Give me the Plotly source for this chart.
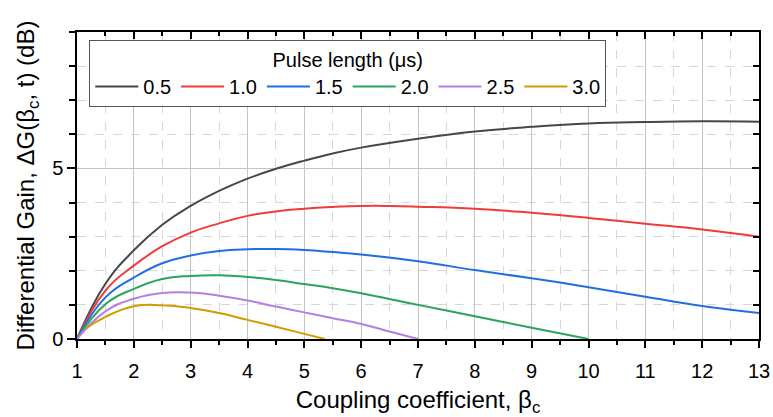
import plotly.graph_objects as go

# Differential gain vs coupling coefficient for several pulse lengths
pulse_labels = ["0.5", "1.0", "1.5", "2.0", "2.5", "3.0"]
colors = ["#474747", "#ef3b3b", "#1f6ee6", "#2ba360", "#b47ee5", "#d39b00"]

beta_05 = [1, 1.5, 2, 2.5, 3, 3.5, 4, 4.5, 5, 5.5, 6, 7, 8, 9, 10, 11, 12, 13]
gain_05 = [0, 1.62, 2.6, 3.35, 3.9, 4.34, 4.7, 4.99, 5.23, 5.44, 5.61, 5.87, 6.08, 6.22, 6.32, 6.36, 6.38, 6.37]

beta_10 = [1, 1.5, 2, 2.5, 3, 3.5, 4, 4.5, 5, 5.5, 6, 6.5, 7, 8, 9, 10, 11, 12, 13]
gain_10 = [0, 1.42, 2.15, 2.72, 3.12, 3.39, 3.61, 3.74, 3.82, 3.87, 3.9, 3.9, 3.88, 3.82, 3.7, 3.55, 3.38, 3.21, 3.0]

beta_15 = [1, 1.5, 2, 2.5, 3, 3.5, 4, 4.5, 5, 5.5, 6, 7, 8, 9, 10, 11, 12, 13]
gain_15 = [0, 1.22, 1.8, 2.22, 2.45, 2.58, 2.63, 2.64, 2.61, 2.55, 2.48, 2.28, 2.02, 1.78, 1.52, 1.24, 0.97, 0.76]

beta_20 = [1, 1.5, 2, 2.5, 3, 3.5, 4, 4.5, 5, 5.5, 6, 7, 8, 9, 10]
gain_20 = [0, 1.02, 1.47, 1.76, 1.85, 1.87, 1.82, 1.73, 1.61, 1.49, 1.34, 1.0, 0.67, 0.33, 0.0]

beta_25 = [1, 1.5, 2, 2.5, 3, 3.5, 4, 4.5, 5, 5.5, 6, 6.5, 7]
gain_25 = [0, 0.81, 1.18, 1.35, 1.36, 1.27, 1.13, 0.95, 0.78, 0.61, 0.44, 0.22, 0.0]

beta_30 = [1.15, 1.5, 2, 2.5, 3, 3.5, 4, 4.5, 5, 5.36]
gain_30 = [0.3, 0.65, 0.96, 0.99, 0.91, 0.76, 0.56, 0.36, 0.15, 0.0]

series = [
    (beta_05, gain_05), (beta_10, gain_10), (beta_15, gain_15),
    (beta_20, gain_20), (beta_25, gain_25), (beta_30, gain_30),
]

x_range = [1, 13]
y_range = [0, 9]
font_family = "Liberation Sans, Arial, sans-serif"

fig = go.Figure()
for (bx, gy), name, col in zip(series, pulse_labels, colors):
    fig.add_trace(go.Scatter(
        x=bx, y=gy, name=name, mode="lines",
        line=dict(color=col, width=2, shape="spline", smoothing=1.3),
    ))

# empty trace so the mirrored (top/right) axes with inward ticks get drawn
fig.add_trace(go.Scatter(x=[], y=[], xaxis="x2", yaxis="y2",
                         showlegend=False, hoverinfo="skip"))

grid_major = "#c4c4c4"
grid_minor = "#d6d6d6"

fig.update_layout(
    width=773, height=417,
    margin=dict(l=77, r=14, t=32, b=78),
    paper_bgcolor="white", plot_bgcolor="white",
    font=dict(family=font_family, size=20, color="black"),
    xaxis=dict(
        range=x_range, tick0=1, dtick=1, ticks="outside", ticklen=7,
        tickwidth=1.5, tickcolor="black",
        showline=True, linecolor="black", linewidth=1.5,
        showgrid=True, gridcolor=grid_major, gridwidth=1,
        minor=dict(dtick=0.5, ticks="outside", ticklen=4, tickcolor="black",
                   showgrid=True, gridcolor=grid_minor, griddash="dash"),
        zeroline=False, ticklabelstandoff=6, automargin=False,
        tickfont=dict(size=20),
        title=dict(text="Coupling coefficient, β<sub>c</sub>",
                   font=dict(size=24), standoff=14),
    ),
    yaxis=dict(
        range=y_range, tick0=0, dtick=5, ticks="outside", ticklen=8,
        tickwidth=1.5, tickcolor="black",
        showline=True, linecolor="black", linewidth=1.5,
        showgrid=True, gridcolor=grid_major, gridwidth=1,
        minor=dict(dtick=1, ticks="outside", ticklen=6, tickcolor="black",
                   showgrid=True, gridcolor=grid_minor, griddash="dash"),
        zeroline=False, automargin=False,
        tickfont=dict(size=20),
        title=dict(text="Differential Gain, ΔG(β<sub>c</sub>, t) (dB)",
                   font=dict(size=24), standoff=11),
    ),
    xaxis2=dict(
        overlaying="x", side="top", anchor="y", range=x_range,
        tick0=1, dtick=1, ticks="inside", ticklen=7, tickwidth=1.5,
        tickcolor="black", showticklabels=False, automargin=False,
        showline=True, linecolor="black", linewidth=1.5,
        showgrid=False, zeroline=False,
        minor=dict(dtick=0.5, ticks="inside", ticklen=4, tickcolor="black"),
    ),
    yaxis2=dict(
        overlaying="y", side="right", anchor="x", range=y_range,
        tick0=0, dtick=5, ticks="inside", ticklen=7, tickwidth=1.5,
        tickcolor="black", showticklabels=False, automargin=False,
        showline=True, linecolor="black", linewidth=1.5,
        showgrid=False, zeroline=False,
        minor=dict(dtick=1, ticks="inside", ticklen=6, tickcolor="black"),
    ),
    legend=dict(
        title=dict(text="Pulse length (μs)", side="top center",
                   font=dict(size=20)),
        orientation="h", x=0.018, y=0.974, xanchor="left", yanchor="top",
        bgcolor="white", bordercolor="#555555", borderwidth=1,
        font=dict(size=20), itemwidth=43, tracegroupgap=0,
    ),
    showlegend=True,
)

fig.write_html("out.html")
